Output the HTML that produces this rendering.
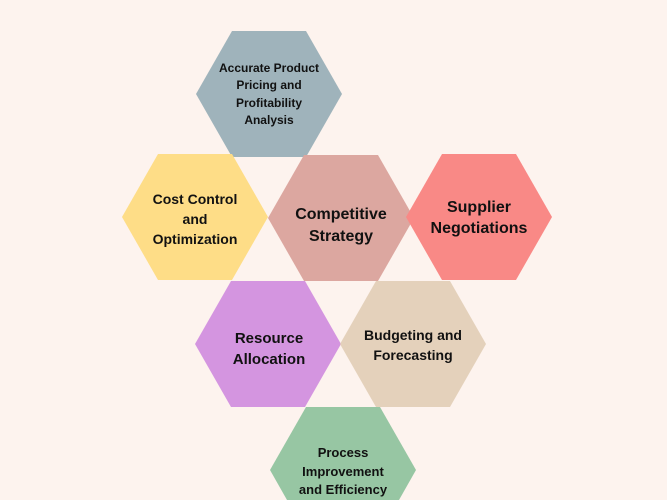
<!DOCTYPE html>
<html><head><style>
html,body{margin:0;padding:0;background:#fdf3ee;width:667px;height:500px;overflow:hidden;}
svg{display:block;}
svg text{font-family:"Liberation Sans",sans-serif;font-weight:bold;fill:#111;text-anchor:middle;}
</style></head><body>
<svg width="667" height="500" viewBox="0 0 667 500" xmlns="http://www.w3.org/2000/svg">
<rect width="667" height="500" fill="#fdf3ee"/>
<defs><polygon id="h" points="0,63 36,0 110,0 146,63 110,126 36,126"/></defs>
<use href="#h" x="196" y="31" fill="#9fb3bb"/>
<use href="#h" x="122" y="154" fill="#fedd87"/>
<use href="#h" x="268" y="155" fill="#dca7a0"/>
<use href="#h" x="406" y="154" fill="#f98986"/>
<use href="#h" x="195" y="281" fill="#d495e0"/>
<use href="#h" x="340" y="281" fill="#e4d1bb"/>
<polygon points="270,470 306,407 380,407 416,470 399,500 287,500" fill="#97c6a3"/>
<g font-size="12">
<text x="269" y="72">Accurate Product</text>
<text x="269" y="89">Pricing and</text>
<text x="269" y="107">Profitability</text>
<text x="269" y="124">Analysis</text>
</g>
<g font-size="14">
<text x="195" y="204">Cost Control</text>
<text x="195" y="224">and</text>
<text x="195" y="244">Optimization</text>
</g>
<g font-size="16">
<text x="341" y="219">Competitive</text>
<text x="341" y="241">Strategy</text>
<text x="479" y="212">Supplier</text>
<text x="479" y="233">Negotiations</text>
</g>
<g font-size="15">
<text x="269" y="343">Resource</text>
<text x="269" y="364">Allocation</text>
</g>
<g font-size="14">
<text x="413" y="340">Budgeting and</text>
<text x="413" y="360">Forecasting</text>
</g>
<g font-size="13">
<text x="343" y="457">Process</text>
<text x="343" y="476">Improvement</text>
<text x="343" y="494">and Efficiency</text>
</g>
</svg>
</body></html>
